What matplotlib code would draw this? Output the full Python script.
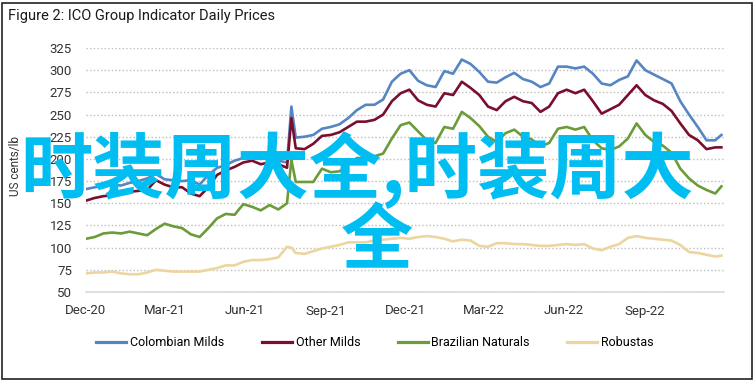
import matplotlib
matplotlib.use("Agg")
import matplotlib.pyplot as plt
import pandas as pd
from matplotlib.patches import Rectangle

plt.rcParams['font.family'] = ['Liberation Sans Narrow', 'Roboto', 'DejaVu Sans']

# sample dates (roughly every 10 days, plus the July 2021 frost spike)
dates = [
    "2020-12-01", "2020-12-11", "2020-12-21", "2020-12-31", "2021-01-10", "2021-01-20",
    "2021-01-30", "2021-02-09", "2021-02-19", "2021-03-01", "2021-03-11", "2021-03-21",
    "2021-03-31", "2021-04-10", "2021-04-20", "2021-04-30", "2021-05-10", "2021-05-20",
    "2021-05-30", "2021-06-09", "2021-06-19", "2021-06-29", "2021-07-09", "2021-07-19",
    "2021-07-24",
    "2021-07-29", "2021-08-08", "2021-08-18", "2021-08-28", "2021-09-07", "2021-09-17",
    "2021-09-27", "2021-10-07", "2021-10-17", "2021-10-27", "2021-11-06",
    "2021-11-16", "2021-11-26",
    "2021-12-06", "2021-12-16", "2021-12-26", "2022-01-05", "2022-01-15", "2022-01-25",
    "2022-02-04", "2022-02-14", "2022-02-24", "2022-03-06", "2022-03-16", "2022-03-26",
    "2022-04-05", "2022-04-15", "2022-04-25", "2022-05-05", "2022-05-15", "2022-05-25",
    "2022-06-04",
    "2022-06-14", "2022-06-24", "2022-07-04", "2022-07-14", "2022-07-24", "2022-08-03",
    "2022-08-13", "2022-08-23", "2022-09-02", "2022-09-12", "2022-09-22", "2022-10-02",
    "2022-10-12", "2022-10-22", "2022-11-01", "2022-11-11", "2022-11-21", "2022-11-28",
]

colombian = [
    166, 168, 170, 171, 170, 173, 175, 178,
    183, 177, 176, 175, 176,
    171, 182, 190, 193, 198, 201,
    204, 200, 201, 198, 196,
    259,
    224, 225, 227, 234, 236, 239, 246, 255, 261, 261, 267,
    287, 296,
    300, 288, 283, 281, 299, 296, 312, 307, 298, 287, 286, 292, 297, 290, 287, 281, 285, 304, 304,
    302, 304, 296, 285, 283, 289, 293, 311, 300, 295, 290, 285, 265, 250, 236, 221, 221, 227,
]
other_milds = [
    153, 156, 158, 159, 161, 163, 164, 165,
    176, 171, 168, 168, 161,
    158, 168, 182, 187, 191, 196,
    198, 194, 196, 194, 190,
    246,
    212, 211, 217, 226, 227, 230, 236, 242, 242, 244, 250,
    265, 274,
    278, 266, 261, 259, 274, 272, 287, 280, 272, 259, 255, 265, 270, 265, 263, 253, 259, 274, 278,
    274, 278, 265, 251, 256, 261, 272, 283, 272, 266, 262, 254, 240, 227, 221, 211, 213, 213,
]
brazilian = [
    110, 112, 116, 117, 116, 118, 116, 114,
    121, 127, 124, 122, 115,
    112, 122, 133, 138, 137, 149,
    146, 142, 148, 143, 150,
    199,
    174, 174, 174, 189, 185, 186, 194, 201, 201, 203, 206,
    223, 238,
    241, 231, 221, 218, 236, 234, 253, 246, 237, 225, 219, 229, 233, 225, 222, 214, 218, 234, 236,
    233, 236, 221, 212, 210, 214, 223, 240, 227, 219, 215, 207, 189, 178, 170, 165, 161, 169,
]
robustas = [
    71, 72, 72, 73, 71, 70, 70, 72,
    75, 74, 73, 73, 73,
    73, 75, 77, 80, 80, 84,
    86, 86, 87, 89, 101,
    100,
    94, 93, 96, 99, 101, 103, 106, 106, 106, 108, 109,
    110, 111,
    110, 112, 113, 112, 110, 107, 109, 108, 102, 101, 105, 105, 104, 104, 103, 102, 102, 103, 104,
    103, 104, 99, 97, 101, 104, 111, 113, 111, 110, 109, 108, 103, 95, 94, 92, 90, 91,
]

series_names = ["Colombian Milds", "Other Milds", "Brazilian Naturals", "Robustas"]
series_colors = ["#5585c3", "#7a0e2e", "#6b9b3a", "#ecd59f"]

xtick_dates = ["2020-12-01", "2021-03-01", "2021-06-01", "2021-09-01",
               "2021-12-01", "2022-03-01", "2022-06-01", "2022-09-01"]
xtick_labels = ["Dec-20", "Mar-21", "Jun-21", "Sep-21", "Dec-21", "Mar-22", "Jun-22", "Sep-22"]
yticks = [50, 75, 100, 125, 150, 175, 200, 225, 250, 275, 300, 325]

W, H = 755, 382
fig = plt.figure(figsize=(W / 100, H / 100), dpi=100)
ax = fig.add_axes([86 / W, 1 - 292 / H, 638 / W, 244 / H])

x = pd.to_datetime(dates)
for vals, col, name in zip([colombian, other_milds, brazilian, robustas], series_colors, series_names):
    ax.plot(x, vals, color=col, lw=1.9, label=name, solid_joinstyle='round')

ax.set_ylim(50, 325)
ax.set_yticks(yticks)
ax.set_xlim(pd.Timestamp("2020-12-01"), pd.Timestamp("2022-12-01"))
ax.set_xticks(pd.to_datetime(xtick_dates))
ax.set_xticklabels(xtick_labels)

ax.grid(axis='y', linestyle=(0, (1, 1.6)), color='#bdbdbd', lw=1)
ax.set_axisbelow(True)
for s in ['top', 'right', 'left']:
    ax.spines[s].set_visible(False)
ax.spines['bottom'].set_color('#d9d9d9')
ax.spines['bottom'].set_linewidth(1.2)
ax.tick_params(axis='both', length=0, labelsize=9.5, colors='#333333')
ax.tick_params(axis='y', pad=10)
ax.tick_params(axis='x', pad=9)

fig.text(16 / W, 1 - 166 / H, "US cents/lb", rotation=90, ha='center', va='center',
         fontsize=8.5, color='#333333')
fig.text(8 / W, 1 - 16 / H, "Figure 2: ICO Group Indicator Daily Prices", ha='left', va='center',
         fontsize=10.5, color='#1a1a1a')

handles, labels = ax.get_legend_handles_labels()
leg = fig.legend(handles, labels, loc='center', bbox_to_anchor=(375 / W, 1 - 343 / H), ncol=4,
                 frameon=False, fontsize=9, handlelength=2.4, handletextpad=0.3,
                 columnspacing=3.0)
for line in leg.get_lines():
    line.set_linewidth(2.3)

fig.patches.append(Rectangle((2 / W, 3 / H), 750 / W, 376 / H, transform=fig.transFigure,
                             fill=False, ec='#222222', lw=1.2))

# overlaid watermark text
wm_color = '#00bdf2'
fig.text(20 / W, 1 - 193 / H, "时装周大全,时装周大", ha='left', va='baseline', fontsize=52,
         color=wm_color, family=['Noto Sans CJK SC'], weight='bold', zorder=10)
fig.text(377 / W, 1 - 263 / H, "全", ha='center', va='baseline', fontsize=52,
         color=wm_color, family=['Noto Sans CJK SC'], weight='bold', zorder=10)

fig.savefig("out.png", dpi=100)
